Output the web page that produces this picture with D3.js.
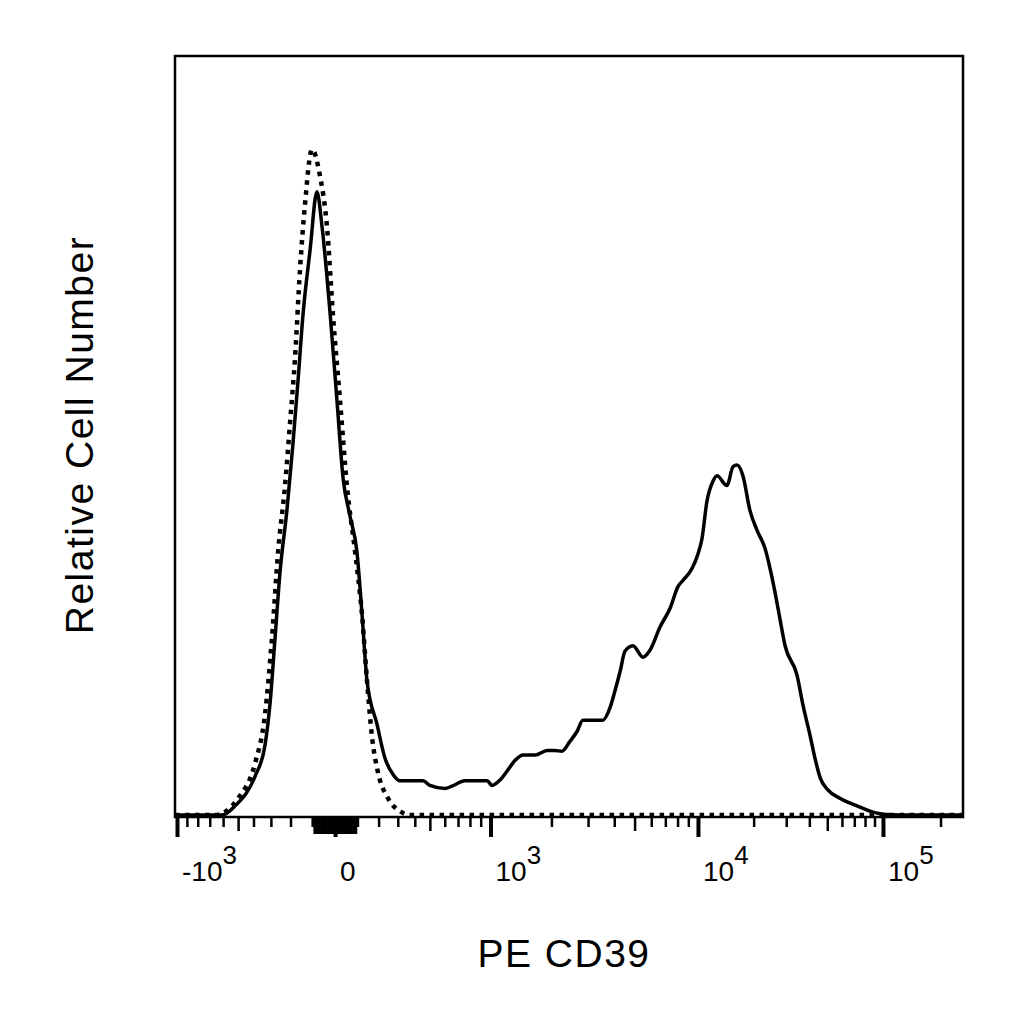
<!DOCTYPE html>
<html>
<head>
<meta charset="utf-8">
<script src="https://cdn.jsdelivr.net/npm/d3@7"></script>
<style>
    html, body { margin: 0; padding: 0; background: #fff; }
    svg text { font-family: "Liberation Sans", Arial, sans-serif; fill: #000; }
</style>
</head>
<body>
<svg id="histogram" width="1024" height="1024"></svg>
<script>
// Histogram in display channels (256 across the biex axis), counts scaled to 1000 = top of plot.
var stainedChannel = [0, 15.3, 19.5, 26.0, 29.2, 30.9, 32.5, 34.1, 36.4, 38.3, 40.0, 41.6, 43.9, 46.1,
    47.8, 50.4, 52.6, 54.6, 56.9, 59.1, 60.8, 62.4, 65.6, 68.2, 70.9, 73.1, 80.6, 82.8, 87.7, 90.0,
    94.2, 101.4, 103.0, 105.6, 107.9, 110.5, 113.1, 117.0, 120.9, 123.4, 125.7, 128.3, 130.6, 132.5,
    139.0, 141.3, 142.9, 144.6, 146.2, 148.8, 152.0, 154.3, 157.6, 160.8, 163.4, 165.0, 168.0, 169.9,
    171.2, 172.8, 174.8, 176.1, 179.3, 181.3, 182.6, 184.5, 186.8, 189.1, 191.7, 193.3, 194.9, 196.5,
    198.2, 202.1, 204.0, 206.3, 207.9, 209.6, 212.1, 216.0, 221.6, 225.8, 230.0, 235.5, 256];
var stainedCount = [0, 0, 12, 51, 91, 148, 233, 319, 403, 488, 574, 660, 745, 821,
    774, 660, 547, 444, 393, 347, 262, 176, 120, 75, 53, 45, 45, 39, 35, 38,
    45, 45, 39, 46, 58, 72, 79, 79, 85, 85, 84, 97, 110, 125,
    125, 141, 163, 189, 216, 223, 208, 217, 248, 272, 301, 309, 325, 344,
    364, 413, 440, 447, 434, 459, 461, 447, 401, 375, 351, 325, 294, 259,
    223, 184, 145, 105, 75, 49, 33, 22, 12, 5, 1, 0, 0];

var isotypeChannel = [0, 13.0, 20.5, 26.0, 29.2, 31.5, 33.5, 35.7, 37.4, 39.0, 40.6, 42.2, 44.5,
    47.1, 49.4, 51.3, 53.6, 55.9, 58.5, 60.8, 62.4, 64.0, 65.9, 69.2, 73.1, 76.3, 256];
var isotypeCount = [0, 0, 22, 68, 131, 233, 347, 432, 518, 603, 718, 803, 877,
    842, 774, 660, 547, 432, 347, 262, 176, 103, 57, 22, 5, 0, 0];

// Biex axis calibration: fluorescence value -> display channel.
var biexValue = [-1000, -500, 0, 500, 1000, 1e4, 1e5, 262144];
var biexChannel = [0.65, 20.5, 52.0, 82.8, 102.5, 169.9, 230.0, 256];

// Decade labels.
var tickLabelValue = [-1000, 0, 1000, 1e4, 1e5];
var tickLabelBase = ['-10', '0', '10', '10', '10'];
var tickLabelExp = ['3', '', '3', '4', '5'];

var xTitle = 'PE CD39';
var yTitle = 'Relative Cell Number';

var margin = {
    top: 56,
    right: 61,
    bottom: 207,
    left: 175
};
var width = 1024 - margin.left - margin.right;
var height = 1024 - margin.top - margin.bottom;

var svg = d3.select('svg#histogram');
var g = svg.append('g')
    .attr('transform', 'translate(' + margin.left + ',' + margin.top + ')');

/**
 * Symmetric log-like transform used between calibration points.
 */
function biex(v) {
    return Math.asinh(v / 400);
}

var xChannel = d3.scaleLinear().domain([0, 256]).range([0, width]);
var xBiex = d3.scaleLinear()
    .domain(biexValue.map(biex))
    .range(biexChannel.map(xChannel));
var y = d3.scaleLinear().domain([0, 1000]).range([height - 2, 0]);

/**
 * Draw one group of ticks below the plot.
 */
function drawTicks(values, size, weight) {
    var axis = d3.axisBottom(xBiex)
        .tickValues(values.map(biex))
        .tickSize(size)
        .tickFormat('');
    var a = g.append('g')
        .attr('transform', 'translate(0,' + height + ')')
        .call(axis);
    a.select('.domain').remove();
    a.selectAll('line').attr('stroke', '#000').attr('stroke-width', weight);
}

function notFive(v) {
    return String(v)[0] !== '5';
}

var fineTicks = d3.range(-90, 0, 10).concat(d3.range(10, 100, 10));
var minorTicks = [].concat(
    d3.range(-900, -500, 100),
    d3.range(-400, 0, 100),
    d3.range(100, 500, 100),
    d3.range(600, 1000, 100),
    d3.range(2000, 10000, 1000).filter(notFive),
    d3.range(20000, 100000, 10000).filter(notFive),
    [200000]
);
var mediumTicks = [-500, 500, 5000, 50000];
var majorTicks = [-1000, 0, 1000, 1e4, 1e5];

drawTicks(fineTicks, 17, 3);
drawTicks(minorTicks, 10, 2.5);
drawTicks(mediumTicks, 14, 2.5);
drawTicks(majorTicks, 20, 4);

// Decade labels with superscript exponents
var labels = g.append('g').attr('font-size', 28);
tickLabelValue.forEach(function(v, i) {
    var t = labels.append('text')
        .attr('x', xBiex(biex(v)) + 5)
        .attr('y', height + 64);
    t.append('tspan').text(tickLabelBase[i]);
    if (tickLabelExp[i]) {
        t.append('tspan').attr('dy', -17).attr('font-size', 26).text(tickLabelExp[i]);
    }
});

var line = d3.line()
    .curve(d3.curveMonotoneX)
    .x(function(d) { return xChannel(d[0]); })
    .y(function(d) { return y(d[1]); });

g.append('path')
    .datum(d3.zip(isotypeChannel, isotypeCount))
    .attr('fill', 'none')
    .attr('stroke', '#000')
    .attr('stroke-width', 4.5)
    .attr('stroke-dasharray', '4.5,5.5')
    .attr('d', line);

g.append('path')
    .datum(d3.zip(stainedChannel, stainedCount))
    .attr('fill', 'none')
    .attr('stroke', '#000')
    .attr('stroke-width', 3.5)
    .attr('stroke-linejoin', 'round')
    .attr('d', line);

// Plot frame
g.append('rect')
    .attr('width', width)
    .attr('height', height)
    .attr('fill', 'none')
    .attr('stroke', '#000')
    .attr('stroke-width', 2.5);

g.append('text')
    .attr('x', 564 - margin.left)
    .attr('y', height + 150)
    .attr('text-anchor', 'middle')
    .attr('font-size', 39)
    .attr('letter-spacing', 1.5)
    .text(xTitle);

svg.append('text')
    .attr('transform', 'translate(93,435) rotate(-90)')
    .attr('text-anchor', 'middle')
    .attr('font-size', 39)
    .attr('letter-spacing', 1.5)
    .text(yTitle);
</script>
</body>
</html>
